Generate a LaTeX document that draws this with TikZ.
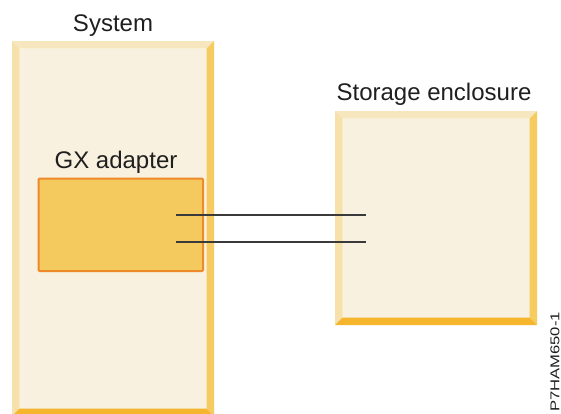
\documentclass[tikz,border=0pt]{standalone}
\usepackage{fontspec}
\setmainfont{Liberation Sans}
\usetikzlibrary{calc}
\definecolor{face}{HTML}{F8F1DF}
\definecolor{bevtop}{HTML}{F6E7BF}
\definecolor{bevleft}{HTML}{F7E1AB}
\definecolor{bevright}{HTML}{F6CB5F}
\definecolor{bevbottom}{HTML}{F5B52D}
\definecolor{gxfill}{HTML}{F4C95E}
\definecolor{gxline}{HTML}{EF8A2B}
\definecolor{cable}{HTML}{3A3A3A}

\begin{document}
\begin{tikzpicture}[x=1pt,y=-1pt,
    label text/.style={font=\fontsize{24}{28}\selectfont,text=black!88,inner sep=0pt},
    cable line/.style={draw=cable,line width=1.1pt}]
    \useasboundingbox (0,0) rectangle (561,413);
    % system
    \coordinate (S1) at (12,41);
    \coordinate (S2) at (214,41);
    \coordinate (S3) at (214,416);
    \coordinate (S4) at (12,416);
    \coordinate (s1) at ($(S1)+(7.5,7.5)$);
    \coordinate (s2) at ($(S2)+(-7.5,7.5)$);
    \coordinate (s3) at ($(S3)+(-7.5,-7.5)$);
    \coordinate (s4) at ($(S4)+(7.5,-7.5)$);
    \fill[face] (s1) rectangle (s3);
    \fill[bevtop] (S1) -- (S2) -- (s2) -- (s1) -- cycle;
    \fill[bevleft] (S1) -- (s1) -- (s4) -- (S4) -- cycle;
    \fill[bevright] (S2) -- (S3) -- (s3) -- (s2) -- cycle;
    \fill[bevbottom] (S4) -- (s4) -- (s3) -- (S3) -- cycle;
    % storage enclosure
    \coordinate (E1) at (335,111);
    \coordinate (E2) at (537,111);
    \coordinate (E3) at (537,325);
    \coordinate (E4) at (335,325);
    \coordinate (e1) at ($(E1)+(7.5,7.5)$);
    \coordinate (e2) at ($(E2)+(-7.5,7.5)$);
    \coordinate (e3) at ($(E3)+(-7.5,-7.5)$);
    \coordinate (e4) at ($(E4)+(7.5,-7.5)$);
    \fill[face] (e1) rectangle (e3);
    \fill[bevtop] (E1) -- (E2) -- (e2) -- (e1) -- cycle;
    \fill[bevleft] (E1) -- (e1) -- (e4) -- (E4) -- cycle;
    \fill[bevright] (E2) -- (E3) -- (e3) -- (e2) -- cycle;
    \fill[bevbottom] (E4) -- (e4) -- (e3) -- (E3) -- cycle;
    % GX adapter
    \draw[gxline,fill=gxfill,line width=2pt,rounded corners=1pt] (38.5,178.5) rectangle (203,271);
    % cables
    \coordinate (A1) at (176,215);
    \coordinate (A2) at (176,242);
    \coordinate (B1) at (366,215);
    \coordinate (B2) at (366,242);
    \draw[cable line] (A1) -- (B1);
    \draw[cable line] (A2) -- (B2);
    % labels
    \node[label text,anchor=base] (sys) at (113,31) {System};
    \node[label text,anchor=base] (gx) at (116,168) {GX adapter};
    \node[label text,anchor=base] (enc) at (434,100) {Storage enclosure};
    \node[inner sep=0pt,rotate=90,text=black!88] (fig) at (555,362)
        {\scalebox{1.3}[1]{\fontsize{12.8}{14}\selectfont P7HAM650-1}};
\end{tikzpicture}
\end{document}
